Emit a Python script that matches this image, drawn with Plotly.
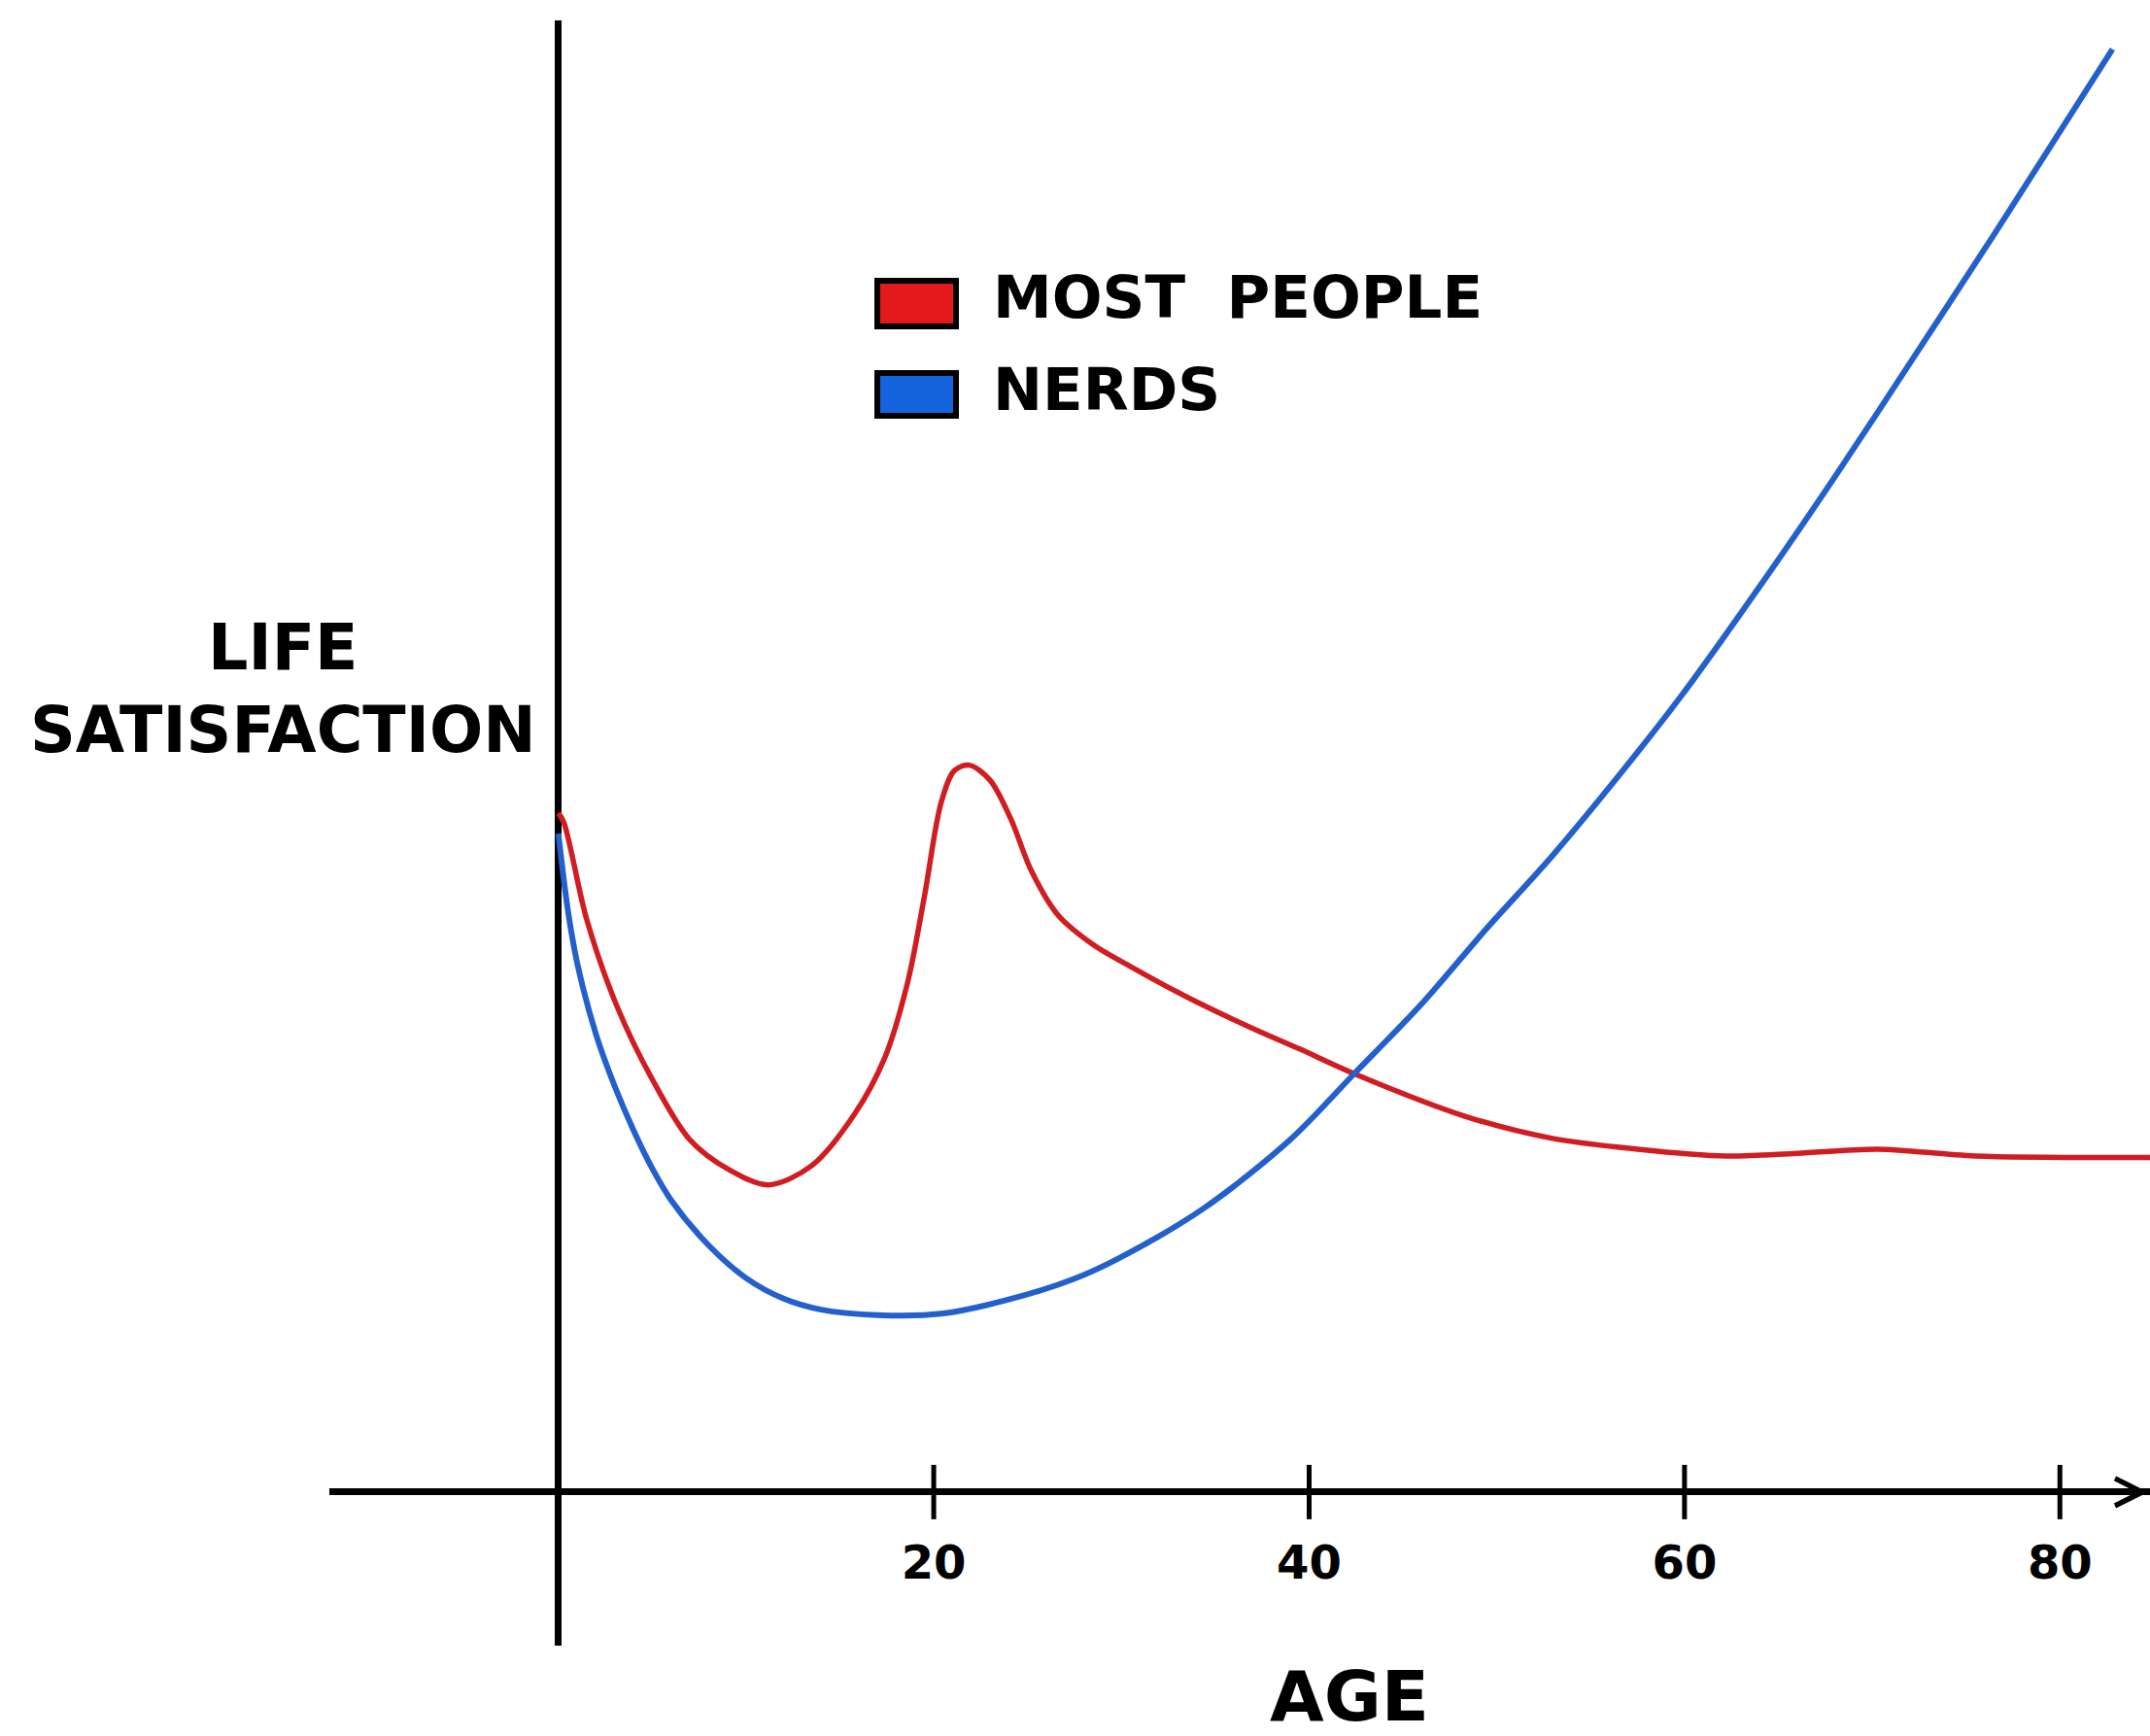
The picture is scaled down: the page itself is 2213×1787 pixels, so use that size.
import plotly.graph_objects as go

# ---- data ----
red_age = [0.0, 0.3, 1.5, 3.1, 5.0, 7.0, 9.1, 11.2, 13.5, 15.8, 17.4, 18.6, 19.5, 20.4,
           21.1, 21.9, 23.0, 24.1, 25.2, 26.6, 28.5, 30.5, 32.5, 34.5, 37.0, 39.5, 42.4,
           48.3, 52.9, 57.5, 62.2, 66.0, 70.3, 75.5, 84.8]
red_val = [49.5, 48.8, 41.8, 35.5, 30.1, 25.7, 23.5, 22.4, 23.8, 27.6, 31.7, 37.1, 43.4, 50.3,
           52.6, 53.0, 51.9, 49.1, 45.3, 42.1, 39.9, 38.3, 36.8, 35.4, 33.8, 32.3, 30.5,
           27.4, 25.8, 25.0, 24.5, 24.7, 25.0, 24.5, 24.4]

blue_age = [0.0, 0.5, 1.0, 2.0, 3.0, 4.0, 5.0, 6.0, 8.0, 10.0, 12.0, 14.0, 17.0, 20.4,
            23.9, 27.4, 29.8, 34.4, 39.0, 42.4, 46.0, 49.4, 52.9, 56.3, 59.8, 64.5,
            68.0, 72.1, 76.4, 79.4, 82.8]
blue_val = [48.0, 42.5, 38.6, 33.4, 29.6, 26.4, 23.6, 21.3, 18.0, 15.6, 14.1, 13.3, 12.9, 13.0,
            14.0, 15.5, 17.0, 20.7, 25.7, 30.5, 35.6, 41.0, 46.3, 51.9, 58.0, 67.0,
            74.0, 82.5, 91.5, 97.9, 105.2]

tick_vals = [20, 40, 60, 80]
tick_text = ["20", "40", "60", "80"]

series_names = ["MOST PEOPLE", "NERDS"]
x_label = "AGE"
y_label = "LIFE<br>SATISFACTION"

# ---- layout geometry ----
W, H = 2213, 1787
ML, MR, MT, MB = 339, 0, 21, 93
XR = [-12.2, 84.8]
YR = [-11.2, 107.3]
PW, PH = W - ML - MR, H - MT - MB

def px(xp):
    return (xp - ML) / PW

def py(yp):
    return (H - MB - yp) / PH

FONT = "DejaVu Sans"
RED_LINE = "#d01d22"
BLUE_LINE = "#2360cc"
RED_FILL = "#e3191b"
BLUE_FILL = "#1463dc"

fig = go.Figure()

# axis tick crosses
fig.add_trace(go.Scatter(
    x=tick_vals, y=[0] * len(tick_vals), mode="markers",
    marker=dict(symbol="line-ns", size=40, line=dict(width=5, color="black")),
    hoverinfo="skip", showlegend=False))

fig.add_trace(go.Scatter(
    x=red_age, y=red_val, mode="lines", name=series_names[0],
    line=dict(color=RED_LINE, width=5.5, shape="spline", smoothing=0.9),
    showlegend=False))

fig.add_trace(go.Scatter(
    x=blue_age, y=blue_val, mode="lines", name=series_names[1],
    line=dict(color=BLUE_LINE, width=6, shape="spline", smoothing=0.9),
    showlegend=False))

x_axis_pos = (0 - YR[0]) / (YR[1] - YR[0])

fig.update_layout(
    width=W, height=H,
    margin=dict(l=ML, r=MR, t=MT, b=MB, pad=0),
    paper_bgcolor="white", plot_bgcolor="white",
    font=dict(family=FONT, color="black"),
    xaxis=dict(range=XR, showgrid=False, zeroline=True, zerolinecolor="black",
               zerolinewidth=6.5, showline=False, tickvals=tick_vals, ticktext=tick_text,
               ticks="", anchor="free", position=x_axis_pos, ticklabelstandoff=40,
               tickfont=dict(size=48, family=FONT, color="black", weight="bold")),
    yaxis=dict(range=YR, showgrid=False, zeroline=True, zerolinecolor="black",
               zerolinewidth=6.5, showline=False, showticklabels=False, ticks=""),
    showlegend=False,
)

# legend swatches
fig.add_shape(type="rect", xref="paper", yref="paper",
              x0=px(903), x1=px(984), y0=py(336), y1=py(289),
              fillcolor=RED_FILL, line=dict(color="black", width=6))
fig.add_shape(type="rect", xref="paper", yref="paper",
              x0=px(903), x1=px(984), y0=py(428), y1=py(384),
              fillcolor=BLUE_FILL, line=dict(color="black", width=6))

LEG_FONT = dict(size=61, family=FONT, color="black", weight="bold")
fig.add_annotation(xref="paper", yref="paper", x=px(1020), y=py(305),
                   text="MOST\u00a0\u00a0PEOPLE", showarrow=False, xanchor="left", yanchor="middle",
                   font=LEG_FONT)
fig.add_annotation(xref="paper", yref="paper", x=px(1020), y=py(400),
                   text=series_names[1], showarrow=False, xanchor="left", yanchor="middle",
                   font=LEG_FONT)

# axis titles
fig.add_annotation(xref="paper", yref="paper", x=px(291), y=py(709),
                   text=y_label, showarrow=False, xanchor="center", yanchor="middle",
                   align="center", font=dict(size=65, family=FONT, color="black", weight="bold"))
fig.add_annotation(xref="paper", yref="paper", x=px(1389), y=py(1746),
                   text=x_label, showarrow=False, xanchor="center", yanchor="middle",
                   font=dict(size=72, family=FONT, color="black", weight="bold"))

# arrow head on the x axis
fig.add_annotation(x=XR[1] - 0.1, y=0, ax=-30, ay=0, text="", showarrow=True,
                   arrowhead=5, arrowsize=1.1, arrowwidth=5, arrowcolor="black")

fig.write_html("out.html", config={"displayModeBar": False},
               post_script="document.body.style.margin='0';document.body.style.overflow='hidden';")
